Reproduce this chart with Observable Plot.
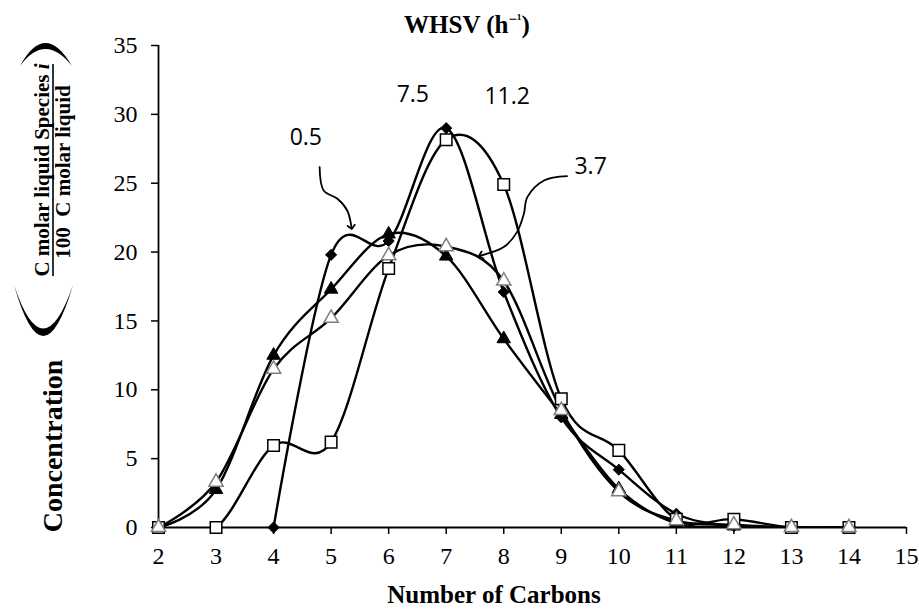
<!DOCTYPE html>
<html><head><meta charset="utf-8">
<script src="https://cdn.jsdelivr.net/npm/d3@7"></script>
<script src="https://cdn.jsdelivr.net/npm/@observablehq/plot@0.6"></script>
<style>body{margin:0;background:#fff} svg{display:block}</style>
</head><body><div id="chart"></div>
<script>
// ---- data ----
const carbons = [2, 3, 4, 5, 6, 7, 8, 9, 10, 11, 12, 13, 14];
const whsv05 = [null, null, 0, 19.8, 20.8, 29.0, 17.1, 8.0, 4.2, 1.0, 0.1, 0, 0];      // filled diamonds
const whsv75 = [0, 0, 5.95, 6.2, 18.8, 28.15, 24.9, 9.35, 5.6, 0.6, 0.6, 0, 0];        // open squares
const whsv112 = [0, 2.75, 12.5, 17.3, 21.3, 19.7, 13.7, 8.2, 2.8, 0.3, 0.1, 0, 0];     // filled triangles
const whsv37 = [0, 3.3, 11.5, 15.2, 19.75, 20.4, 17.9, 8.5, 2.6, 0.5, 0.2, 0, 0];      // open triangles
const xTicks = [2, 3, 4, 5, 6, 7, 8, 9, 10, 11, 12, 13, 14, 15];
const yTicks = [0, 5, 10, 15, 20, 25, 30, 35];

// annotation labels (data coordinates)
const noteText = ["0.5", "7.5", "11.2", "3.7"];
const noteX = [4.56, 6.42, 8.06, 9.51];
const noteY = [28.34, 31.45, 31.3, 26.2];
// annotation arrows (data coordinates)
const arrow05X = [4.80, 4.87, 5.11, 5.28, 5.354];
const arrow05Y = [26.17, 24.47, 23.87, 23.02, 21.81];
const arrow37X = [9.10, 8.70, 8.41, 8.35, 8.23, 8.00, 7.60];
const arrow37Y = [25.51, 25.20, 23.99, 22.78, 21.45, 20.36, 19.75];

const toRows = (vals) => carbons.map((c, i) => ({x: c, y: vals[i]})).filter(d => d.y != null);
const sDiamond = toRows(whsv05), sSquare = toRows(whsv75), sFTri = toRows(whsv112), sOTri = toRows(whsv37);
const notes = noteText.map((t, i) => ({t, x: noteX[i], y: noteY[i]}));
const a05 = arrow05X.map((x, i) => ({x, y: arrow05Y[i]}));
const a37 = arrow37X.map((x, i) => ({x, y: arrow37Y[i]}));

const curve = d3.curveCardinal.tension(0);
const lineOpts = {x: "x", y: "y", stroke: "black", strokeWidth: 2.4, curve, clip: true};

const plot = Plot.plot({
  width: 919, height: 609,
  marginLeft: 158, marginRight: 13, marginTop: 45, marginBottom: 82,
  x: {domain: [2, 15]},
  y: {domain: [0, 35]},
  style: {fontFamily: "Liberation Serif", fontSize: "24px", color: "black", background: "white"},
  marks: [
    Plot.axisX({ticks: xTicks, tickSize: 7, tickPadding: 12, tickFormat: d => d, label: null, strokeWidth: 1.5, fontSize: 24}),
    Plot.axisY({ticks: yTicks, tickSize: 7, tickPadding: 14, tickFormat: d => d, label: null, strokeWidth: 1.5, fontSize: 24}),
    Plot.ruleY([0], {stroke: "black", strokeWidth: 1.8}),
    Plot.ruleX([2], {stroke: "black", strokeWidth: 1.8}),
    Plot.line(sDiamond, lineOpts),
    Plot.line(sSquare, lineOpts),
    Plot.line(sFTri, lineOpts),
    Plot.line(sOTri, lineOpts),
    Plot.dot(sDiamond, {x: "x", y: "y", symbol: "diamond2", r: 5, fill: "black", stroke: "black", strokeWidth: 1}),
    Plot.dot(sSquare, {x: "x", y: "y", symbol: "square", r: 6.5, fill: "white", stroke: "black", strokeWidth: 1.5}),
    Plot.dot(sFTri, {x: "x", y: "y", symbol: "triangle", r: 5, fill: "black", stroke: "black", strokeWidth: 1}),
    Plot.dot(sOTri, {x: "x", y: "y", symbol: "triangle", r: 5.3, fill: "white", stroke: "#7f7f7f", strokeWidth: 1.5}),
    Plot.line(a05, {x: "x", y: "y", stroke: "black", strokeWidth: 1.8, curve: "catmull-rom", markerEnd: "arrow"}),
    Plot.line(a37, {x: "x", y: "y", stroke: "black", strokeWidth: 1.8, curve: "catmull-rom", markerEnd: "arrow"}),
    Plot.text(notes, {x: "x", y: "y", text: "t", fontFamily: "Open Sans", fontSize: 23, fill: "black", textAnchor: "middle", lineAnchor: "middle"})
  ]
});

const svg = d3.select(plot);
// title
svg.append("text").attr("x", 467).attr("y", 33).attr("text-anchor", "middle")
  .attr("font-family", "Liberation Serif").attr("font-weight", "bold").attr("font-size", 25)
  .call(t => { t.append("tspan").text("WHSV (h"); t.append("tspan").attr("font-size", 15).attr("dy", -9).text("\u2212\u00B9"); t.append("tspan").attr("dy", 9).text(")"); });
// x label
svg.append("text").attr("x", 494).attr("y", 603).attr("text-anchor", "middle")
  .attr("font-family", "Liberation Serif").attr("font-weight", "bold").attr("font-size", 25)
  .text("Number of Carbons");
// y label
const g = svg.append("g").attr("transform", "rotate(-90)")
  .attr("font-family", "Liberation Serif").attr("font-weight", "bold").attr("fill", "black");
g.append("text").attr("x", -446).attr("y", 62).attr("text-anchor", "middle").attr("font-size", 28).text("Concentration");
g.append("text").attr("x", -170).attr("y", 49).attr("text-anchor", "middle").attr("font-size", 21)
  .call(t => { t.append("tspan").text("C molar liquid Species "); t.append("tspan").attr("font-style", "italic").text("i"); });
g.append("line").attr("x1", -276).attr("x2", -64).attr("y1", 53).attr("y2", 53).attr("stroke", "black").attr("stroke-width", 1.6);
g.append("text").attr("x", -172).attr("y", 70).attr("text-anchor", "middle").attr("font-size", 21).text("100  C molar liquid");
// large parentheses (real coordinates)
svg.append("path").attr("d", "M14,285 Q43,387 73,285 Q43,372 14,285 Z").attr("fill", "black");
svg.append("path").attr("d", "M20,66 Q45,20 72,66 Q45,32 20,66 Z").attr("fill", "black");

document.getElementById("chart").appendChild(plot);
</script></body></html>
